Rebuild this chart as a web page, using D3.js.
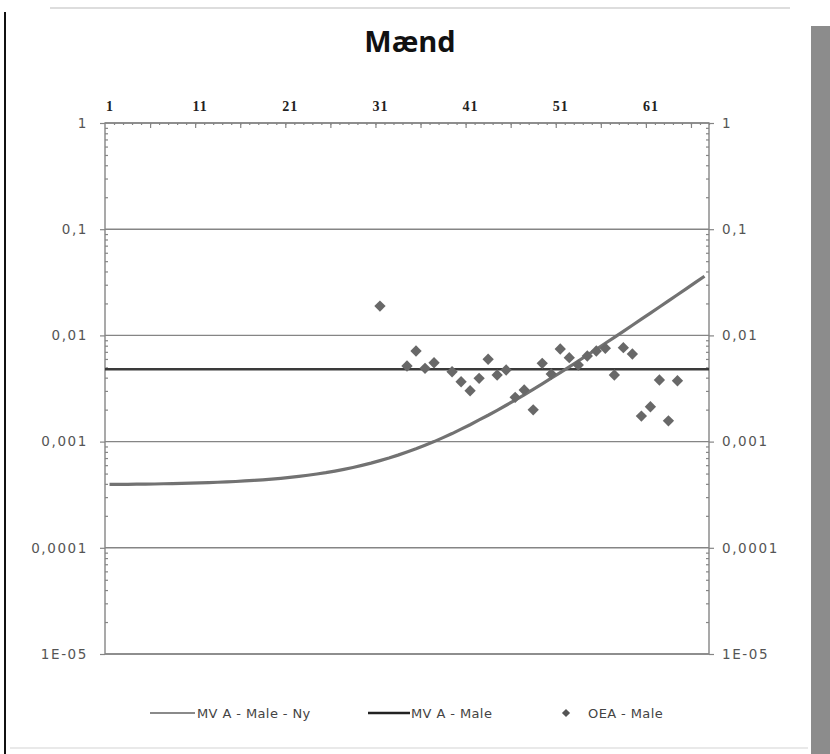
<!DOCTYPE html>
<html>
<head>
<meta charset="utf-8">
<script src="https://cdn.jsdelivr.net/npm/d3@7"></script>
<style>
  body { margin: 0; background: #fff; }
  svg { display: block; }
</style>
</head>
<body>
<svg id="chart" width="830" height="754"></svg>
<script>
// categories on the (secondary) top axis
const categories = [1,2,3,4,5,6,7,8,9,10,11,12,13,14,15,16,17,18,19,20,21,22,23,24,25,26,27,28,29,30,
  31,32,33,34,35,36,37,38,39,40,41,42,43,44,45,46,47,48,49,50,51,52,53,54,55,56,57,58,59,60,
  61,62,63,64,65,66,67];
const topTickLabels = [1, 11, 21, 31, 41, 51, 61];

const yTickValues = [1, 0.1, 0.01, 0.001, 0.0001, 0.00001];
const yTickLabels = ["1", "0,1", "0,01", "0,001", "0,0001", "1E-05"];

// MV A - Male - Ny (one per category)
const nyValues = [
  0.000395, 0.000395, 0.000396, 0.000397, 0.000398, 0.000399, 0.000401, 0.000402, 0.000404, 0.000406,
  0.000408, 0.000411, 0.000414, 0.000417, 0.000421, 0.000426, 0.000431, 0.000437, 0.000444, 0.000451,
  0.000460, 0.000470, 0.000482, 0.000495, 0.000510, 0.000528, 0.000548, 0.000571, 0.000597, 0.000627,
  0.000662, 0.000701, 0.000746, 0.000798, 0.000857, 0.000925, 0.00100, 0.00109, 0.00119, 0.00131,
  0.00144, 0.00160, 0.00177, 0.00197, 0.00220, 0.00246, 0.00276, 0.00311, 0.00350, 0.00396,
  0.00447, 0.00506, 0.00574, 0.00652, 0.00741, 0.00843, 0.00959, 0.01093, 0.01246, 0.01421,
  0.01622, 0.01851, 0.02114, 0.02415, 0.0276, 0.03155, 0.03607
];

// MV A - Male (flat level)
const mvValue = 0.0048;

// OEA - Male
const oeaCats = [31, 34, 35, 36, 37, 39, 40, 41, 42, 43, 44, 45, 46, 47, 48, 49, 50,
  51, 52, 53, 54, 55, 56, 57, 58, 59, 60, 61, 62, 63, 64];
const oeaValues = [0.0189, 0.00515, 0.00713, 0.0049, 0.00553, 0.00455, 0.00366, 0.00301, 0.00394, 0.00596,
  0.00424, 0.00472, 0.00261, 0.00306, 0.00199, 0.00546, 0.00433, 0.00745, 0.00617, 0.00526,
  0.0064, 0.00713, 0.00757, 0.00424, 0.00766, 0.00668, 0.00174, 0.00213, 0.0038, 0.00157, 0.00374];

const seriesNames = ["MV A - Male - Ny", "MV A - Male", "OEA - Male"];

const svg = d3.select("#chart");
const pLeft = 105, pRight = 709, pTop = 123, pBottom = 654;

// page scan frame bits
svg.append("line").attr("x1", 5).attr("x2", 5).attr("y1", 12).attr("y2", 754)
  .attr("stroke", "#111").attr("stroke-width", 2);
svg.append("line").attr("x1", 50).attr("x2", 790).attr("y1", 8).attr("y2", 8)
  .attr("stroke", "#ddd").attr("stroke-width", 2);
svg.append("rect").attr("x", 811).attr("y", 26).attr("width", 19).attr("height", 728)
  .attr("fill", "#8c8c8c");
svg.append("line").attr("x1", 10).attr("x2", 808).attr("y1", 748).attr("y2", 748)
  .attr("stroke", "#e2e2e2").attr("stroke-width", 1.5);

const x = d3.scaleLinear().domain([0.5, categories.length + 0.5]).range([pLeft, pRight]);
const y = d3.scaleLog().domain([0.00001, 1]).range([pBottom, pTop]);

// title
svg.append("text").attr("x", 410).attr("y", 52).attr("text-anchor", "middle")
  .attr("font-family", "'Open Sans', sans-serif").attr("font-weight", "bold")
  .attr("font-size", 29).attr("fill", "#111").text("Mænd");

// gridlines
svg.append("g").selectAll("line").data(yTickValues).join("line")
  .attr("x1", pLeft).attr("x2", pRight)
  .attr("y1", d => y(d)).attr("y2", d => y(d))
  .attr("stroke", "#858585").attr("stroke-width", 1.4);

// plot frame
svg.append("rect").attr("x", pLeft).attr("y", pTop).attr("width", pRight - pLeft).attr("height", pBottom - pTop)
  .attr("fill", "none").attr("stroke", "#858585").attr("stroke-width", 1.4);

// minor log ticks
const minorVals = [];
yTickValues.slice(1).forEach(d => { for (let k = 2; k < 10; k++) minorVals.push(d * k); });

function styleAxis(g) {
  g.select(".domain").remove();
  g.selectAll(".tick line").attr("stroke", "#858585").attr("stroke-width", 1.2);
  g.selectAll("text").attr("font-family", "'DejaVu Sans', sans-serif").attr("font-size", 13.5)
    .attr("letter-spacing", 1.6).attr("fill", "#555");
}

svg.append("g").attr("transform", `translate(${pLeft},0)`)
  .call(d3.axisLeft(y).tickValues(yTickValues).tickFormat((d, i) => yTickLabels[i]).tickSize(5).tickPadding(12))
  .call(styleAxis);
svg.append("g").attr("transform", `translate(${pRight},0)`)
  .call(d3.axisRight(y).tickValues(yTickValues).tickFormat((d, i) => yTickLabels[i]).tickSize(5).tickPadding(8))
  .call(styleAxis);
svg.append("g").attr("transform", `translate(${pLeft},0)`)
  .call(d3.axisLeft(y).tickValues(minorVals).tickFormat("").tickSize(-3)).call(styleAxis);
svg.append("g").attr("transform", `translate(${pRight},0)`)
  .call(d3.axisRight(y).tickValues(minorVals).tickFormat("").tickSize(-3)).call(styleAxis);

// top category axis: labels at centres, ticks on boundaries
svg.append("g").attr("transform", `translate(0,${pTop})`)
  .call(d3.axisTop(x).tickValues(topTickLabels).tickSize(0).tickPadding(12))
  .call(styleAxis)
  .call(g => g.selectAll("text").attr("font-family", "'Liberation Serif', serif")
    .attr("font-weight", "bold").attr("fill", "#222").attr("font-size", 14).attr("letter-spacing", 1));
svg.append("g").attr("transform", `translate(0,${pTop})`)
  .call(d3.axisTop(x).tickValues(categories.filter(c => c % 5 === 0).map(c => c + 0.5)).tickFormat("").tickSize(-5))
  .call(styleAxis);
svg.append("g").attr("transform", `translate(0,${pTop})`)
  .call(d3.axisTop(x).tickValues(categories.map(c => c + 0.5)).tickFormat("").tickSize(-2))
  .call(styleAxis);

// MV A - Male, drawn across the whole plot width
svg.append("path")
  .datum([categories[0] - 0.5, categories[categories.length - 1] + 0.5])
  .attr("d", d3.line().x(d => x(d)).y(() => y(mvValue)))
  .attr("fill", "none").attr("stroke", "#3a3a3a").attr("stroke-width", 2.6);

// MV A - Male - Ny
svg.append("path")
  .datum(categories.map((c, i) => ({c: c, v: nyValues[i]})))
  .attr("d", d3.line().x(d => x(d.c)).y(d => y(d.v)))
  .attr("fill", "none").attr("stroke", "#727272").attr("stroke-width", 3.2);

// OEA - Male
const diamond = d3.symbol().type(d3.symbolSquare).size(64);
svg.append("g").selectAll("path").data(oeaCats.map((c, i) => ({c: c, v: oeaValues[i]}))).join("path")
  .attr("d", diamond)
  .attr("transform", d => `translate(${x(d.c)},${y(d.v)}) rotate(45)`)
  .attr("fill", "#686868");

// legend
const lg = svg.append("g").attr("font-family", "'DejaVu Sans', sans-serif").attr("font-size", 13)
  .attr("letter-spacing", 0.4).attr("fill", "#444");
lg.append("line").attr("x1", 150).attr("x2", 195).attr("y1", 713).attr("y2", 713).attr("stroke", "#8a8a8a").attr("stroke-width", 2);
lg.append("text").attr("x", 197).attr("y", 718).text(seriesNames[0]);
lg.append("line").attr("x1", 368).attr("x2", 410).attr("y1", 713).attr("y2", 713).attr("stroke", "#222").attr("stroke-width", 2.5);
lg.append("text").attr("x", 411).attr("y", 718).text(seriesNames[1]);
lg.append("path").attr("d", d3.symbol().type(d3.symbolSquare).size(34)).attr("transform", "translate(566,713) rotate(45)").attr("fill", "#555");
lg.append("text").attr("x", 588).attr("y", 718).text(seriesNames[2]);
</script>
</body>
</html>
